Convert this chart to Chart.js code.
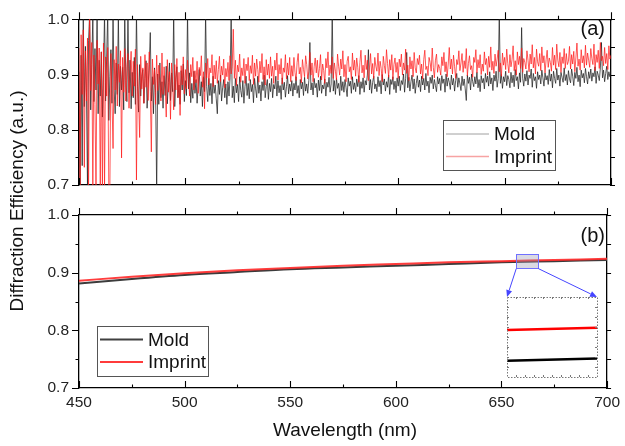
<!DOCTYPE html>
<html lang="en">
<head>
<meta charset="UTF-8">
<title>Diffraction Efficiency</title>
<script src="https://cdn.jsdelivr.net/npm/chart.js"></script>
<style>
  body { margin: 0; background: #fff; }
  #wrap { position: relative; width: 625px; height: 446px; }
  #wrap canvas { position: absolute; left: 0; top: 0; }
</style>
</head>
<body>
<div id="wrap">
  <canvas id="topChart" width="625" height="446"></canvas>
  <canvas id="bottomChart" width="625" height="446"></canvas>
  <canvas id="insetChart" width="625" height="446"></canvas>
</div>
<script>
// measured spectra, panel (a): one value every 0.5 nm from 450 nm, in units of 0.001
const wlStart = 450;
const wlStep = 0.5;
const moldRaw = [
  905, 690, 935, 735, 1010, 842, 951, 868, 695, 962, 1010, 836, 918, 1005, 851, 947, 872, 1010, 829, 926,
  861, 941, 823, 903, 1010, 852, 932, 1010, 817, 896, 945, 848, 1010, 874, 829, 921, 864, 1008, 842, 915,
  872, 913, 836, 1010, 889, 851, 1010, 867, 926, 838, 904, 858, 931, 846, 1010, 879, 832, 918, 861, 897,
  909, 848, 893, 925, 839, 881, 918, 976, 852, 896, 829, 912, 867, 688, 901, 846, 921, 858, 887, 839,
  898, 862, 915, 847, 886, 921, 853, 903, 869, 1010, 842, 894, 914, 858, 881, 846, 907, 872, 919, 851,
  889, 862, 1010, 874, 903, 849, 884, 857, 906, 866, 891, 848, 879, 909, 861, 887, 842, 896, 869, 1010,
  878, 851, 893, 862, 884, 847, 897, 866, 881, 856, 829, 889, 864, 899, 852, 876, 891, 858, 883, 846,
  887, 861, 894, 1010, 858, 879, 849, 893, 867, 882, 851, 896, 871, 859, 889, 848, 878, 897, 862, 884,
  856, 891, 869, 882, 849, 893, 874, 858, 897, 866, 881, 852, 887, 871, 899, 858, 878, 891, 855, 884,
  869, 893, 858, 882, 874, 897, 861, 889, 867, 880, 855, 894, 872, 886, 859, 878, 898, 865, 883, 870,
  889, 861, 884, 872, 896, 866, 880, 858, 891, 874, 886, 862, 895, 870, 883, 866, 889, 958, 872, 885,
  863, 893, 876, 884, 859, 890, 871, 897, 866, 881, 874, 892, 861, 886, 877, 895, 868, 883, 1010, 870,
  889, 864, 893, 875, 884, 862, 897, 871, 887, 868, 891, 876, 860, 894, 879, 888, 866, 896, 873, 885,
  869, 892, 878, 898, 864, 887, 875, 894, 868, 889, 881, 899, 945, 872, 891, 866, 886, 897, 874, 883,
  869, 896, 878, 889, 865, 900, 881, 892, 870, 887, 877, 899, 864, 891, 882, 896, 873, 888, 867, 894,
  879, 897, 871, 889, 882, 901, 868, 893, 940, 876, 895, 870, 887, 899, 874, 892, 866, 884, 898, 877,
  890, 869, 897, 881, 893, 872, 902, 879, 888, 867, 895, 884, 899, 874, 891, 880, 869, 896, 883, 893,
  871, 898, 884, 892, 868, 901, 879, 894, 886, 873, 899, 881, 893, 870, 889, 902, 877, 894, 883, 871,
  897, 880, 892, 874, 853, 899, 884, 895, 872, 901, 887, 878, 896, 883, 904, 876, 891, 869, 898, 885,
  893, 874, 902, 886, 897, 879, 905, 883, 894, 871, 899, 888, 906, 877, 893, 1010, 884, 900, 875, 896,
  887, 906, 880, 898, 891, 876, 904, 885, 899, 878, 909, 889, 896, 874, 903, 886, 985, 893, 879, 901,
  888, 907, 881, 899, 893, 910, 877, 902, 889, 896, 875, 905, 891, 899, 883, 908, 894, 879, 903, 890,
  898, 882, 909, 888, 901, 876, 906, 893, 884, 911, 890, 899, 879, 904, 895, 886, 912, 889, 900, 881,
  907, 892, 885, 910, 897, 880, 904, 893, 913, 887, 899, 878, 908, 894, 902, 885, 911, 896, 883, 905,
  893, 910, 888, 903, 896, 914, 884, 906, 899, 889, 912, 958, 894, 908, 887, 902, 915, 891, 905, 896,
  909
];
const imprintRaw = [
  948, 690, 972, 864, 981, 732, 943, 852, 966, 690, 1005, 871, 958, 690, 935, 846, 690, 962, 883, 948,
  690, 941, 690, 957, 690, 932, 861, 949, 690, 690, 938, 857, 766, 927, 872, 951, 843, 919, 886, 943,
  749, 931, 868, 947, 852, 914, 938, 839, 906, 942, 861, 924, 879, 946, 709, 918, 857, 786, 933, 874,
  912, 848, 936, 877, 921, 853, 941, 869, 760, 928, 882, 909, 846, 935, 871, 917, 893, 852, 939, 864,
  914, 876, 823, 927, 868, 905, 819, 921, 884, 836, 918, 872, 929, 858, 904, 826, 916, 881, 932, 865,
  909, 874, 926, 889, 861, 918, 896, 931, 872, 907, 885, 924, 866, 913, 898, 934, 877, 905, 838, 921,
  894, 929, 881, 912, 903, 936, 878, 917, 892, 925, 884, 909, 933, 887, 915, 899, 928, 876, 911, 896,
  922, 889, 934, 901, 914, 982, 893, 926, 880, 917, 905, 937, 886, 912, 898, 929, 884, 919, 907, 931,
  889, 916, 902, 935, 882, 921, 897, 928, 909, 886, 924, 903, 938, 891, 914, 881, 927, 899, 919, 893,
  932, 897, 915, 884, 926, 908, 939, 890, 918, 901, 929, 883, 912, 904, 936, 892, 921, 899, 931, 887,
  916, 897, 931, 904, 889, 922, 938, 901, 913, 885, 927, 909, 896, 934, 918, 892, 905, 940, 899, 921,
  887, 914, 930, 903, 926, 895, 911, 936, 890, 919, 907, 884, 929, 912, 941, 898, 917, 902, 932, 893,
  921, 906, 890, 937, 915, 899, 928, 910, 943, 896, 918, 887, 924, 933, 905, 914, 891, 939, 908, 926,
  897, 930, 913, 886, 922, 944, 903, 917, 894, 935, 909, 926, 889, 912, 938, 901, 920, 893, 931, 915,
  906, 939, 898, 924, 911, 887, 933, 916, 902, 945, 920, 895, 927, 908, 936, 891, 918, 930, 904, 922,
  893, 928, 914, 937, 899, 921, 908, 946, 902, 917, 889, 932, 910, 925, 896, 940, 912, 903, 929, 918,
  935, 901, 919, 892, 927, 944, 909, 915, 898, 931, 922, 906, 948, 913, 894, 926, 937, 904, 918, 911,
  899, 932, 916, 940, 905, 923, 896, 919, 949, 910, 928, 901, 935, 914, 893, 927, 918, 943, 907, 921,
  938, 904, 925, 911, 947, 898, 920, 934, 909, 916, 895, 931, 922, 945, 903, 927, 912, 936, 900, 919,
  906, 941, 918, 929, 899, 933, 913, 950, 908, 924, 902, 937, 915, 928, 944, 905, 921, 897, 939, 917,
  931, 909, 946, 920, 903, 936, 914, 927, 952, 907, 925, 899, 941, 918, 933, 911, 948, 904, 929, 922,
  910, 943, 926, 905, 937, 919, 954, 912, 931, 901, 946, 923, 915, 938, 907, 950, 921, 934, 903, 927,
  944, 913, 930, 922, 906, 949, 917, 935, 909, 955, 926, 914, 940, 904, 932, 920, 947, 911, 938, 918,
  924, 951, 910, 936, 919, 942, 905, 930, 957, 915, 928, 908, 945, 921, 934, 912, 953, 917, 939, 926,
  913, 947, 929, 918, 955, 907, 936, 922, 944, 911, 958, 925, 933, 916, 949, 920, 938, 909, 952, 928,
  935
];

// simulated curves, panel (b)
const simWl = [450, 475, 500, 525, 550, 575, 600, 625, 650, 675, 700];
const simMold = [0.881, 0.889, 0.896, 0.901, 0.906, 0.909, 0.912, 0.915, 0.918, 0.920, 0.922];
const simImprint = [0.886, 0.893, 0.899, 0.904, 0.908, 0.912, 0.915, 0.918, 0.920, 0.922, 0.924];

// magnified inset of panel (b)
const insetWl = [657, 667];
const insetMold = [0.9188, 0.91896];
const insetImprint = [0.9208, 0.92095];

const xTicks = [450, 500, 550, 600, 650, 700];
const yTicks = [0.7, 0.8, 0.9, 1.0];

const W = 625, H = 446;
const plotLeft = 79, plotRight = 611;
const insetBox = { left: 507, top: 297, right: 597, bottom: 377 };
const zoomWin = { x0: 657, x1: 667.5, y0: 0.907, y1: 0.932 };

const sans = "'Liberation Sans', Arial, Helvetica, sans-serif";
const tickFont = { family: sans, size: 15.5 };

function pts(xs, ys) {
  return xs.map((x, i) => ({ x: x, y: ys[i] }));
}
const measuredWl = moldRaw.map((_, i) => wlStart + i * wlStep);

function panelScales(top, bottom, showX) {
  const edge = { color: '#000', width: 1.3 };
  const off = { display: false, drawTicks: false };
  return {
    x: {
      type: 'linear', position: 'bottom', min: 450, max: 700, grid: off, border: edge,
      afterBuildTicks: s => { s.ticks = xTicks.map(v => ({ value: v })); },
      ticks: { display: showX, font: tickFont, color: '#222', padding: 5, maxRotation: 0, callback: v => String(v) },
      afterFit: s => { s.height = H - bottom; }
    },
    xTop: {
      type: 'linear', position: 'top', min: 450, max: 700, grid: off, border: edge,
      ticks: { display: false },
      afterFit: s => { s.height = top; }
    },
    y: {
      type: 'linear', position: 'left', min: 0.7, max: 1.0, grid: off, border: edge,
      afterBuildTicks: s => { s.ticks = yTicks.map(v => ({ value: v })); },
      ticks: { font: tickFont, color: '#222', padding: 10, callback: v => v.toFixed(1) },
      afterFit: s => { s.width = plotLeft; }
    },
    yRight: {
      type: 'linear', position: 'right', min: 0.7, max: 1.0, grid: off, border: edge,
      ticks: { display: false },
      afterFit: s => { s.width = W - plotRight; }
    }
  };
}

// major/minor tick marks: top & left & right point out, bottom points in
function tickMarks() {
  return {
    id: 'tickMarks',
    afterDraw(chart) {
      const { ctx, chartArea: a, scales: { x, y } } = chart;
      ctx.save();
      ctx.strokeStyle = '#000';
      ctx.lineWidth = 1.1;
      ctx.beginPath();
      for (let v = 450; v <= 700; v += 25) {
        const px = Math.round(x.getPixelForValue(v)) + 0.5;
        const len = v % 50 === 0 ? 7 : 3.5;
        ctx.moveTo(px, a.top); ctx.lineTo(px, a.top - len);
        ctx.moveTo(px, a.bottom); ctx.lineTo(px, a.bottom - len);
      }
      for (let k = 0; k <= 6; k++) {
        const py = Math.round(y.getPixelForValue(0.7 + k * 0.05)) + 0.5;
        const len = k % 2 === 0 ? 7 : 3.5;
        ctx.moveTo(a.left, py); ctx.lineTo(a.left - len, py);
        ctx.moveTo(a.right, py); ctx.lineTo(a.right + 4, py);
      }
      ctx.stroke();
      ctx.restore();
    }
  };
}

function drawLegend(ctx, box, items) {
  ctx.save();
  ctx.fillStyle = '#fff';
  ctx.fillRect(box.x, box.y, box.w, box.h);
  ctx.strokeStyle = '#555';
  ctx.lineWidth = 1;
  ctx.strokeRect(box.x + 0.5, box.y + 0.5, box.w, box.h);
  ctx.font = '19px ' + sans;
  ctx.textBaseline = 'middle';
  ctx.textAlign = 'left';
  items.forEach(it => {
    ctx.strokeStyle = it.color;
    ctx.lineWidth = it.width;
    ctx.beginPath();
    ctx.moveTo(box.x + 3, it.y);
    ctx.lineTo(box.x + 46, it.y);
    ctx.stroke();
    ctx.fillStyle = '#111';
    ctx.fillText(it.label, box.x + 51, it.y + 1);
  });
  ctx.restore();
}

function arrow(ctx, x1, y1, x2, y2) {
  const a = Math.atan2(y2 - y1, x2 - x1), L = 7, w = 3;
  const bx = x2 - L * Math.cos(a), by = y2 - L * Math.sin(a);
  ctx.beginPath();
  ctx.moveTo(x1, y1);
  ctx.lineTo(bx, by);
  ctx.stroke();
  ctx.beginPath();
  ctx.moveTo(x2, y2);
  ctx.lineTo(bx + w * Math.sin(a), by - w * Math.cos(a));
  ctx.lineTo(bx - w * Math.sin(a), by + w * Math.cos(a));
  ctx.closePath();
  ctx.fill();
}

const panelA = {
  id: 'panelA',
  afterDraw(chart) {
    const ctx = chart.ctx;
    const ds = chart.data.datasets;
    ctx.save();
    ctx.font = '20px ' + sans;
    ctx.fillStyle = '#111';
    ctx.textAlign = 'right';
    ctx.textBaseline = 'middle';
    ctx.fillText('(a)', 605, 29);
    ctx.restore();
    drawLegend(ctx, { x: 443, y: 120, w: 112, h: 50 }, [
      { label: ds[0].label, color: '#a0a0a0', width: 1, y: 134 },
      { label: ds[1].label, color: '#f7a3a3', width: 1.5, y: 156.5 }
    ]);
  }
};

const panelB = {
  id: 'panelB',
  afterDatasetsDraw(chart) {
    const { ctx, scales: { x, y } } = chart;
    const x0 = x.getPixelForValue(zoomWin.x0), x1 = x.getPixelForValue(zoomWin.x1);
    const y0 = y.getPixelForValue(zoomWin.y1), y1 = y.getPixelForValue(zoomWin.y0);
    ctx.save();
    ctx.fillStyle = 'rgba(150,150,175,0.35)';
    ctx.fillRect(x0, y0, x1 - x0, y1 - y0);
    ctx.strokeStyle = '#7070ff';
    ctx.lineWidth = 1;
    ctx.strokeRect(Math.round(x0) + 0.5, Math.round(y0) + 0.5, Math.round(x1 - x0), Math.round(y1 - y0));
    ctx.strokeStyle = ctx.fillStyle = '#4545ff';
    arrow(ctx, x0, y1, insetBox.left, insetBox.top);
    arrow(ctx, x1, y1, insetBox.right, insetBox.top);
    ctx.restore();
  },
  afterDraw(chart) {
    const ctx = chart.ctx;
    const ds = chart.data.datasets;
    ctx.save();
    ctx.fillStyle = '#111';
    ctx.font = '20px ' + sans;
    ctx.textAlign = 'right';
    ctx.textBaseline = 'middle';
    ctx.fillText('(b)', 605, 236);
    ctx.font = '19px ' + sans;
    ctx.textAlign = 'center';
    ctx.fillText('Wavelength (nm)', (plotLeft + plotRight) / 2, 431);
    ctx.translate(18, 201);
    ctx.rotate(-Math.PI / 2);
    ctx.fillText('Diffraction Efficiency (a.u.)', 0, 0);
    ctx.restore();
    drawLegend(ctx, { x: 97, y: 326, w: 111, h: 50 }, [
      { label: ds[0].label, color: '#404040', width: 2, y: 339.5 },
      { label: ds[1].label, color: '#ff3b3b', width: 2, y: 362 }
    ]);
  }
};

const insetFrame = {
  id: 'insetFrame',
  beforeDatasetsDraw(chart) {
    const { ctx, chartArea: a } = chart;
    ctx.save();
    ctx.fillStyle = '#fff';
    ctx.fillRect(a.left, a.top, a.right - a.left, a.bottom - a.top);
    ctx.restore();
  },
  afterDraw(chart) {
    const { ctx, chartArea: a } = chart;
    ctx.save();
    ctx.strokeStyle = '#777';
    ctx.lineWidth = 1;
    ctx.setLineDash([1.5, 1.5]);
    ctx.strokeRect(a.left + 0.5, a.top + 0.5, a.right - a.left, a.bottom - a.top);
    ctx.setLineDash([]);
    ctx.beginPath();
    for (let i = 1; i < 10; i++) {
      const px = Math.round(a.left + (a.right - a.left) * i / 10) + 0.5;
      ctx.moveTo(px, a.top); ctx.lineTo(px, a.top + 2);
      ctx.moveTo(px, a.bottom); ctx.lineTo(px, a.bottom - 2);
    }
    for (let i = 1; i < 8; i++) {
      const py = Math.round(a.top + (a.bottom - a.top) * i / 8) + 0.5;
      ctx.moveTo(a.left, py); ctx.lineTo(a.left + 2, py);
      ctx.moveTo(a.right, py); ctx.lineTo(a.right - 2, py);
    }
    ctx.stroke();
    ctx.restore();
  }
};

const common = {
  responsive: false,
  animation: false,
  events: [],
  layout: { padding: 0 },
  elements: { point: { radius: 0 }, line: { tension: 0 } },
  plugins: { legend: { display: false }, tooltip: { enabled: false } }
};

new Chart(document.getElementById('topChart'), {
  type: 'line',
  data: {
    datasets: [
      { label: 'Mold', order: 2, data: pts(measuredWl, moldRaw.map(v => v / 1000)),
        borderColor: 'rgba(30,30,30,0.82)', borderWidth: 0.9 },
      { label: 'Imprint', order: 1, data: pts(measuredWl, imprintRaw.map(v => v / 1000)),
        borderColor: 'rgba(255,25,25,0.8)', borderWidth: 0.9 }
    ]
  },
  options: Object.assign({}, common, { scales: panelScales(11, 185, false) }),
  plugins: [tickMarks(), panelA]
});

new Chart(document.getElementById('bottomChart'), {
  type: 'line',
  data: {
    datasets: [
      { label: 'Mold', order: 2, data: pts(simWl, simMold),
        borderColor: '#3c3c3c', borderWidth: 2, cubicInterpolationMode: 'monotone' },
      { label: 'Imprint', order: 1, data: pts(simWl, simImprint),
        borderColor: 'rgba(255,40,40,0.9)', borderWidth: 2, cubicInterpolationMode: 'monotone' }
    ]
  },
  options: Object.assign({}, common, { scales: panelScales(215, 388, true) }),
  plugins: [tickMarks(), panelB]
});

new Chart(document.getElementById('insetChart'), {
  type: 'line',
  data: {
    datasets: [
      { label: 'Mold', data: pts(insetWl, insetMold), borderColor: '#000', borderWidth: 2.5 },
      { label: 'Imprint', data: pts(insetWl, insetImprint), borderColor: '#ff0000', borderWidth: 2.5 }
    ]
  },
  options: Object.assign({}, common, {
    layout: { padding: { left: insetBox.left, top: insetBox.top, right: W - insetBox.right, bottom: H - insetBox.bottom } },
    scales: {
      x: { type: 'linear', display: false, min: 657, max: 667 },
      y: { type: 'linear', display: false, min: 0.91775, max: 0.92295 }
    }
  }),
  plugins: [insetFrame]
});
</script>
</body>
</html>
